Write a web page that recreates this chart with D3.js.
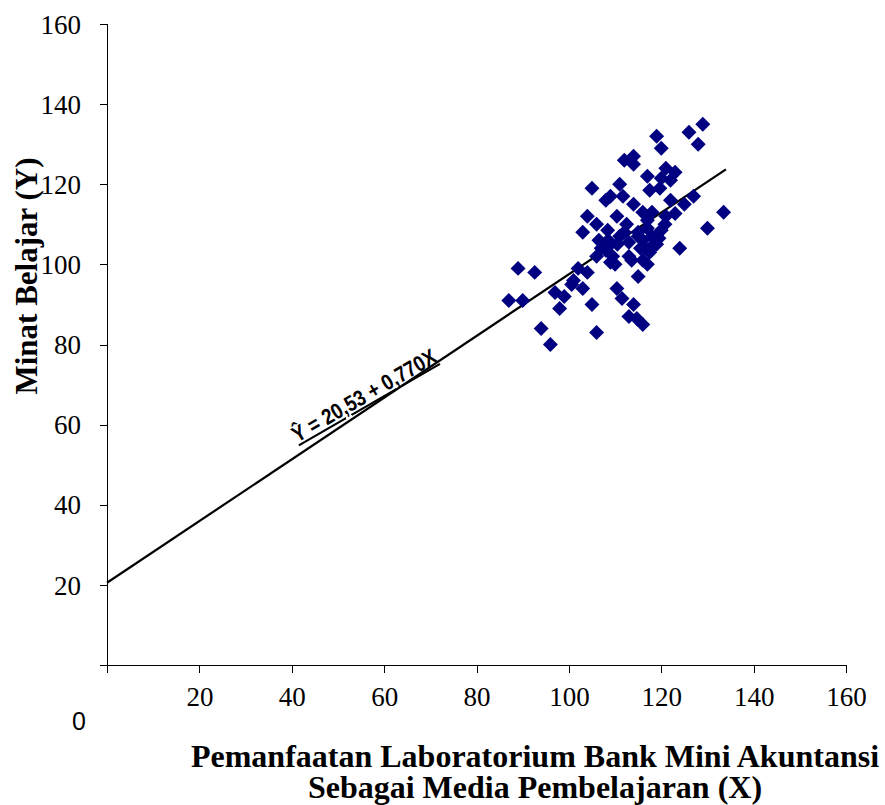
<!DOCTYPE html>
<html>
<head>
<meta charset="utf-8">
<script src="https://cdn.jsdelivr.net/npm/d3@7"></script>
<style>
  body { margin: 0; background: #fff; }
  .axis path, .axis line { stroke: #000; shape-rendering: crispEdges; }
  .axis text { font-family: "Liberation Serif", "Times New Roman", serif; font-size: 27px; fill: #000; }
  .title { font-family: "Liberation Serif", "Times New Roman", serif; font-weight: bold; font-size: 31px; fill: #000; }
</style>
</head>
<body>
<script>
// scores: Pemanfaatan Laboratorium Bank Mini (X) vs Minat Belajar (Y)
const xValues = [87, 89, 90, 92.6, 94, 96, 97, 98, 99, 100.6, 101, 102, 103, 103, 104, 104, 105, 105, 106,
  106, 106, 106.5, 107, 108, 108, 108.4, 108.5, 109, 109, 109, 109.5, 110, 110.4, 110.4, 110.5, 111, 111,
  111.5, 111.7, 112, 112, 112.5, 113, 113, 113, 113.6, 114, 114, 114, 114, 114.7, 115, 115, 115, 115.5,
  116, 116, 116, 116, 116.5, 117, 117, 117, 117, 117.5, 117.5, 118, 118, 118, 119, 119, 119, 119.5, 119.7,
  120, 120, 120, 120.8, 121, 121, 122, 122, 123, 123, 124, 125, 126, 127, 128, 129, 130, 133.5];
const yValues = [91, 99, 91, 98, 84, 80, 93, 89, 92, 95, 96, 99, 94, 108, 112, 98, 119, 90, 83,
  110, 102, 106, 104, 103.5, 116, 108.5, 106, 105, 100.5, 117, 102, 100, 112, 94, 105, 120, 107,
  91.5, 117, 126, 108, 110, 102, 87, 105.5, 101, 127, 125, 115, 90, 86.5, 108, 97, 107, 104,
  113, 85, 106, 101, 104, 122, 111, 100, 109, 118.5, 103, 107, 113, 104.5, 132, 107, 105, 106.5, 119,
  129, 121.5, 108.5, 110, 124, 112, 121, 116, 123, 112.7, 104, 115, 133, 117, 130, 135, 109, 113];

const intercept = 20.53;
const slope = 0.770;
const lineRange = [0, 134];
const equationLabel = "\u0176 = 20,53 + 0,770X";

const xTicks = [0, 20, 40, 60, 80, 100, 120, 140, 160];
const yTicks = [0, 20, 40, 60, 80, 100, 120, 140, 160];

const width = 885, height = 805;
const svg = d3.select("body").append("svg")
  .attr("width", width)
  .attr("height", height);

const x = d3.scaleLinear().domain([0, 160]).range([107, 846]);
const y = d3.scaleLinear().domain([0, 160]).range([665, 24]);

// y axis
svg.append("g")
  .attr("class", "axis")
  .attr("transform", "translate(107,0)")
  .call(d3.axisLeft(y).tickValues(yTicks).tickSize(7).tickPadding(19)
    .tickFormat(d => d === 0 ? "" : d))
  .call(g => g.select(".domain").attr("d", "M0," + y(160) + "V" + y(0)))
  .call(g => g.selectAll(".tick text").attr("dy", "0.34em"));

// x axis
svg.append("g")
  .attr("class", "axis")
  .attr("transform", "translate(0," + y(0) + ")")
  .call(d3.axisBottom(x).tickValues(xTicks).tickSize(8).tickPadding(14)
    .tickFormat(d => d === 0 ? "" : d))
  .call(g => g.select(".domain").attr("d", "M" + (x(0) - 7) + ",0H" + x(160)));

// lonely origin label
svg.append("text")
  .attr("x", x(0) - 28)
  .attr("y", y(0) + 65)
  .attr("text-anchor", "middle")
  .style("font-family", "'Liberation Sans', Arial, sans-serif")
  .style("font-size", "25px")
  .text("0");

// regression line
svg.append("line")
  .attr("x1", x(lineRange[0]))
  .attr("y1", y(intercept + slope * lineRange[0]))
  .attr("x2", x(lineRange[1]))
  .attr("y2", y(intercept + slope * lineRange[1]))
  .attr("stroke", "#000")
  .attr("stroke-width", 2.2);

// points
const diamond = d3.symbol().type(d3.symbolSquare).size(112);
svg.append("g").selectAll("path")
  .data(xValues.map((v, i) => [v, yValues[i]]))
  .enter().append("path")
  .attr("d", diamond)
  .attr("transform", d => "translate(" + x(d[0]) + "," + y(d[1]) + ") rotate(45)")
  .attr("fill", "#000080");

// equation
const eqX = x(41.2), eqY = y(55.5);
svg.append("text")
  .attr("transform", "translate(" + eqX + "," + eqY + ") rotate(-30)")
  .attr("textLength", 163)
  .attr("lengthAdjust", "spacingAndGlyphs")
  .style("font-family", "'Liberation Sans', Arial, sans-serif")
  .style("font-weight", "bold")
  .style("font-size", "22px")
  .style("text-decoration", "underline")
  .text(equationLabel);

// axis titles
svg.append("text")
  .attr("class", "title")
  .attr("transform", "translate(37,276) rotate(-90)")
  .attr("text-anchor", "middle")
  .text("Minat Belajar (Y)");

svg.append("text")
  .attr("class", "title")
  .attr("x", 535)
  .attr("y", 767)
  .attr("text-anchor", "middle")
  .style("font-size", "32px")
  .text("Pemanfaatan Laboratorium Bank Mini Akuntansi");

svg.append("text")
  .attr("class", "title")
  .attr("x", 535)
  .attr("y", 798)
  .attr("text-anchor", "middle")
  .style("font-size", "32px")
  .text("Sebagai Media Pembelajaran (X)");
</script>
</body>
</html>
